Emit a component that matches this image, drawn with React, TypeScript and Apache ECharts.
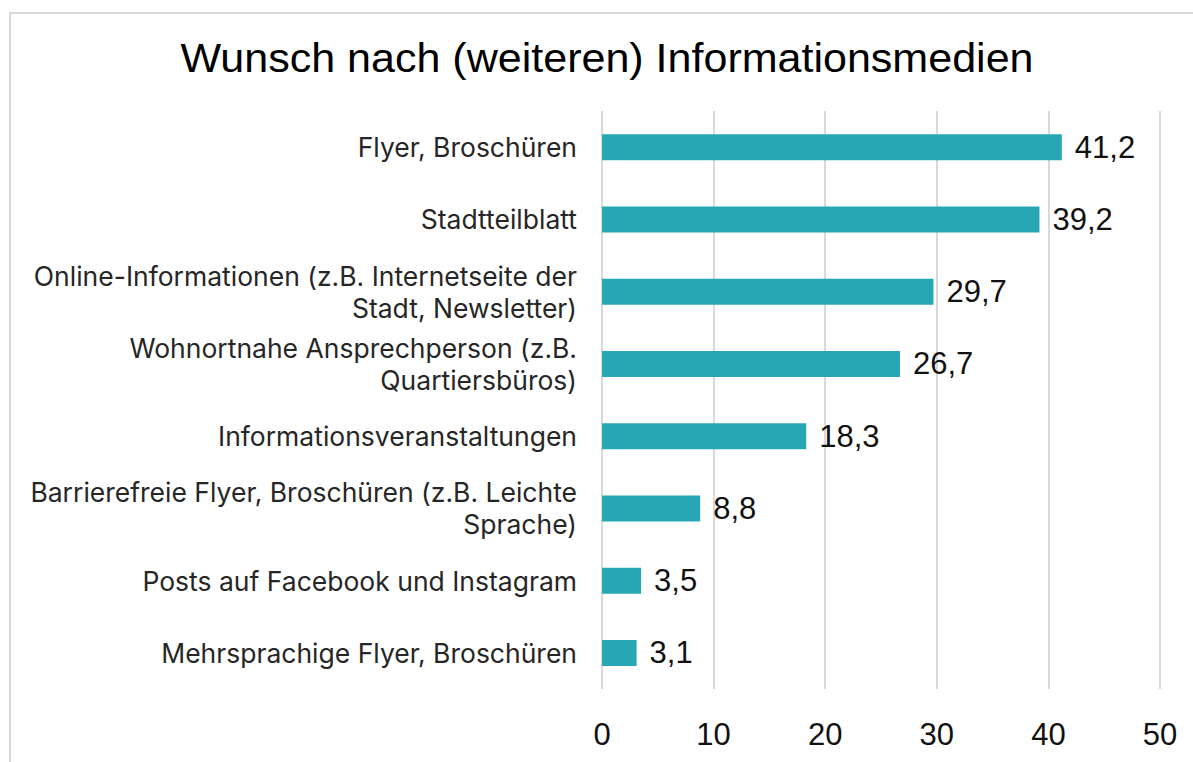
import React, { useEffect, useRef } from "react";
import * as echarts from "echarts";

const categories = [
  "Flyer, Broschüren",
  "Stadtteilblatt",
  "Online-Informationen (z.B. Internetseite der\nStadt, Newsletter)",
  "Wohnortnahe Ansprechperson (z.B.\nQuartiersbüros)",
  "Informationsveranstaltungen",
  "Barrierefreie Flyer, Broschüren (z.B. Leichte\nSprache)",
  "Posts auf Facebook und Instagram",
  "Mehrsprachige Flyer, Broschüren",
];
const values = [41.2, 39.2, 29.7, 26.7, 18.3, 8.8, 3.5, 3.1];
const titleText = "Wunsch nach (weiteren) Informationsmedien";

export default function App() {
  const ref = useRef<HTMLDivElement>(null);
  useEffect(() => {
    if (!ref.current) return;
    const chart = echarts.init(ref.current, null, { renderer: "svg" });
    chart.setOption({
      animation: false,
      backgroundColor: "#ffffff",
      graphic: [
        {
          type: "rect",
          shape: { x: 10, y: 13, width: 1400, height: 1000 },
          style: { fill: "none", stroke: "#d9d9d9", lineWidth: 2 },
          silent: true,
          z: -1,
        },
        {
          type: "text",
          x: 607,
          y: 58,
          scaleX: 1.05,
          style: {
            text: titleText,
            font: '41px "Liberation Sans", Arial, sans-serif',
            fill: "#000000",
            align: "center",
            verticalAlign: "middle",
          },
        },
      ],
      grid: { left: 602, right: 33, top: 111, bottom: 73, containLabel: false },
      xAxis: {
        type: "value",
        min: 0,
        max: 50,
        interval: 10,
        axisLine: { show: false },
        axisTick: { show: false },
        splitLine: { show: true, lineStyle: { color: "#d9d9d9", width: 2 } },
        axisLabel: {
          fontSize: 31,
          fontFamily: '"Liberation Sans", Arial, sans-serif',
          color: "#111111",
          margin: 30,
        },
      },
      yAxis: {
        type: "category",
        data: categories,
        inverse: true,
        axisLine: { show: false },
        axisTick: { show: false },
        axisLabel: {
          fontSize: 26.5,
          fontFamily: "Inter, 'Noto Sans', sans-serif",
          color: "#262626",
          margin: 25,
          lineHeight: 32,
          align: "right",
        },
      },
      series: [
        {
          type: "bar",
          data: values,
          barWidth: 26,
          itemStyle: { color: "#27a6b3" },
          label: {
            show: true,
            position: "right",
            distance: 13,
            fontSize: 31,
            fontFamily: '"Liberation Sans", Arial, sans-serif',
            color: "#111111",
            formatter: (p: any) => String(p.value).replace(".", ","),
          },
        },
      ],
    });
    return () => chart.dispose();
  }, []);
  return (
    <div
      ref={ref}
      style={{ position: "absolute", left: 0, top: 0, width: 1193, height: 762 }}
    />
  );
}
